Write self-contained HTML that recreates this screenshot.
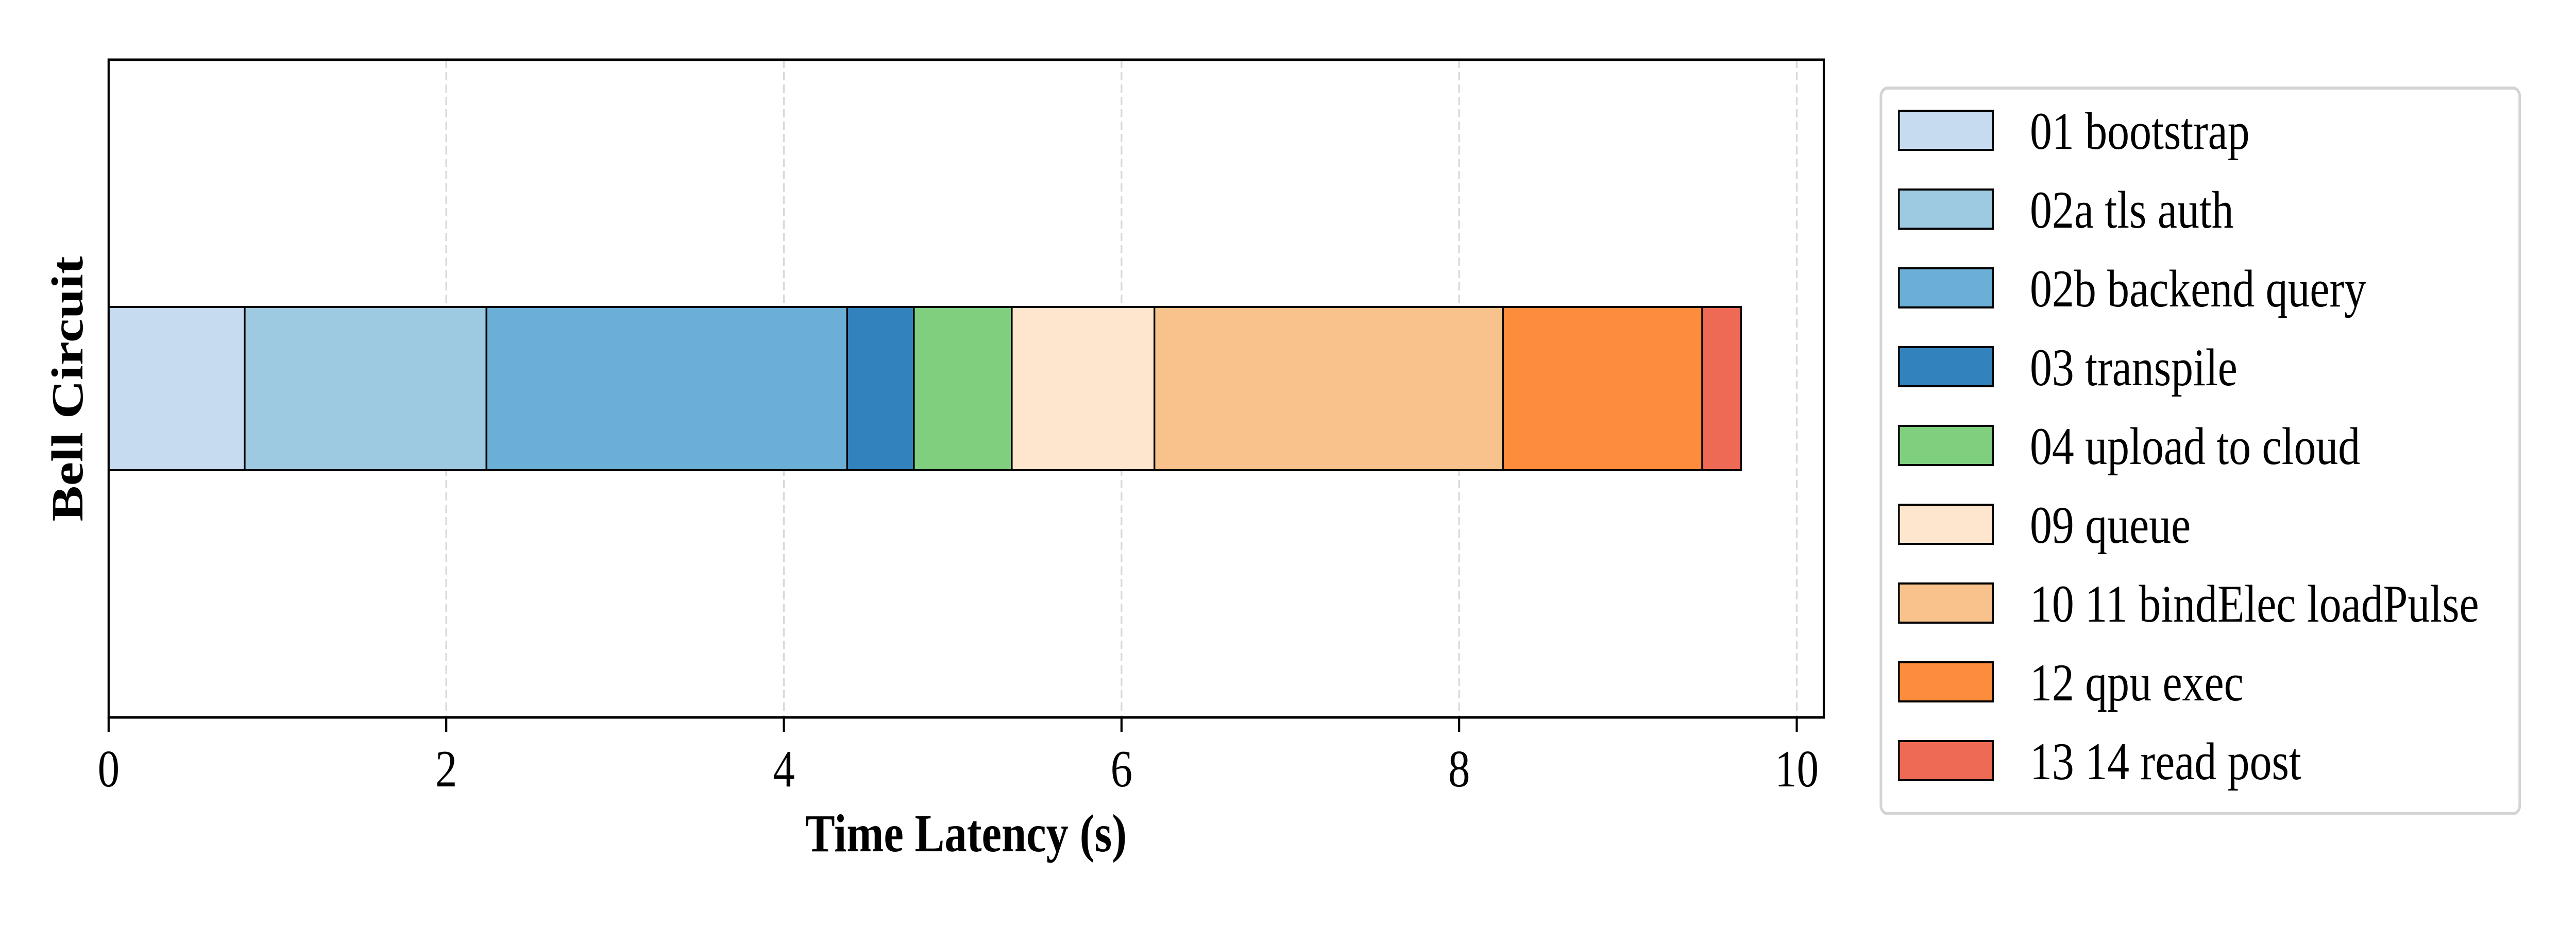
<!DOCTYPE html>
<html><head><meta charset="utf-8"><style>
html,body{margin:0;padding:0;background:#fff;width:100%;height:100%;overflow:hidden;}
svg{display:block;font-family:"Liberation Serif",serif;width:100vw;height:100vh;}
</style></head><body>
<svg id="chart" viewBox="0 0 6000 1800" preserveAspectRatio="none" xmlns="http://www.w3.org/2000/svg">
<rect x="0" y="0" width="6000" height="1800" fill="#fff"/>
<g id="grid"></g>
<g id="bars"></g>
<rect x="253" y="116" width="3995" height="1277" fill="none" stroke="#000" stroke-width="5"/>
<g id="ticks"></g>
<text x="2250" y="1653" text-anchor="middle" font-size="104" font-weight="bold">Time Latency (s)</text>
<text transform="translate(192,755) rotate(-90)" text-anchor="middle" font-size="104" font-weight="bold">Bell Circuit</text>
<rect x="4381" y="171" width="1488" height="1409" rx="16" fill="#fff" stroke="#d4d4d4" stroke-width="6"/>
<g id="legend"></g>
</svg>
<script>
const stages = ["01 bootstrap","02a tls auth","02b backend query","03 transpile","04 upload to cloud","09 queue","10 11 bindElec loadPulse","12 qpu exec","13 14 read post"];
const durations = [0.806,1.432,2.137,0.395,0.58,0.845,2.065,1.18,0.23];
const colors = ["#c6dbef","#9ecae1","#6baed6","#3182bd","#7fcf7f","#fde5ce","#f8c28c","#fd8d3c","#ee6a55"];
const xTicks = [0,2,4,6,8,10];

const NS="http://www.w3.org/2000/svg";
const X0=253, UNIT=393.2, YB=1393;
const xs = v => X0 + v*UNIT;
function mk(tag, attrs, parent){const e=document.createElementNS(NS,tag);for(const k in attrs)e.setAttribute(k,attrs[k]);parent.appendChild(e);return e;}
const grid=document.getElementById('grid'), ticks=document.getElementById('ticks'), bars=document.getElementById('bars'), legend=document.getElementById('legend');
xTicks.forEach(t=>{
  const g=mk('line',{x1:xs(t),x2:xs(t),y1:116,y2:YB,stroke:'#d9d9d9','stroke-width':4,'stroke-dasharray':'16,8'},grid);
  
  
  const tk=mk('line',{x1:xs(t),x2:xs(t),y1:YB,y2:YB+28,stroke:'#000','stroke-width':5},ticks);
  
  
  const tl=mk('text',{x:xs(t),y:1527,'text-anchor':'middle','font-size':102},ticks);
  tl.textContent=t;
  
  
});
let acc=0;
durations.forEach((d,i)=>{
  const r=mk('rect',{x:xs(acc),y:596,width:d*UNIT,height:317,fill:colors[i],stroke:'#000','stroke-width':4},bars);
  
  
  acc+=d;
});
stages.forEach((s,i)=>{
  const y=215+i*153;
  const p=mk('rect',{x:4423,y:y,width:219,height:76,fill:colors[i],stroke:'#000','stroke-width':4},legend);
  
  
  const t=mk('text',{x:4728,y:y+74,'font-size':103},legend);
  t.textContent=s;
  
  
});
</script>
</body></html>
